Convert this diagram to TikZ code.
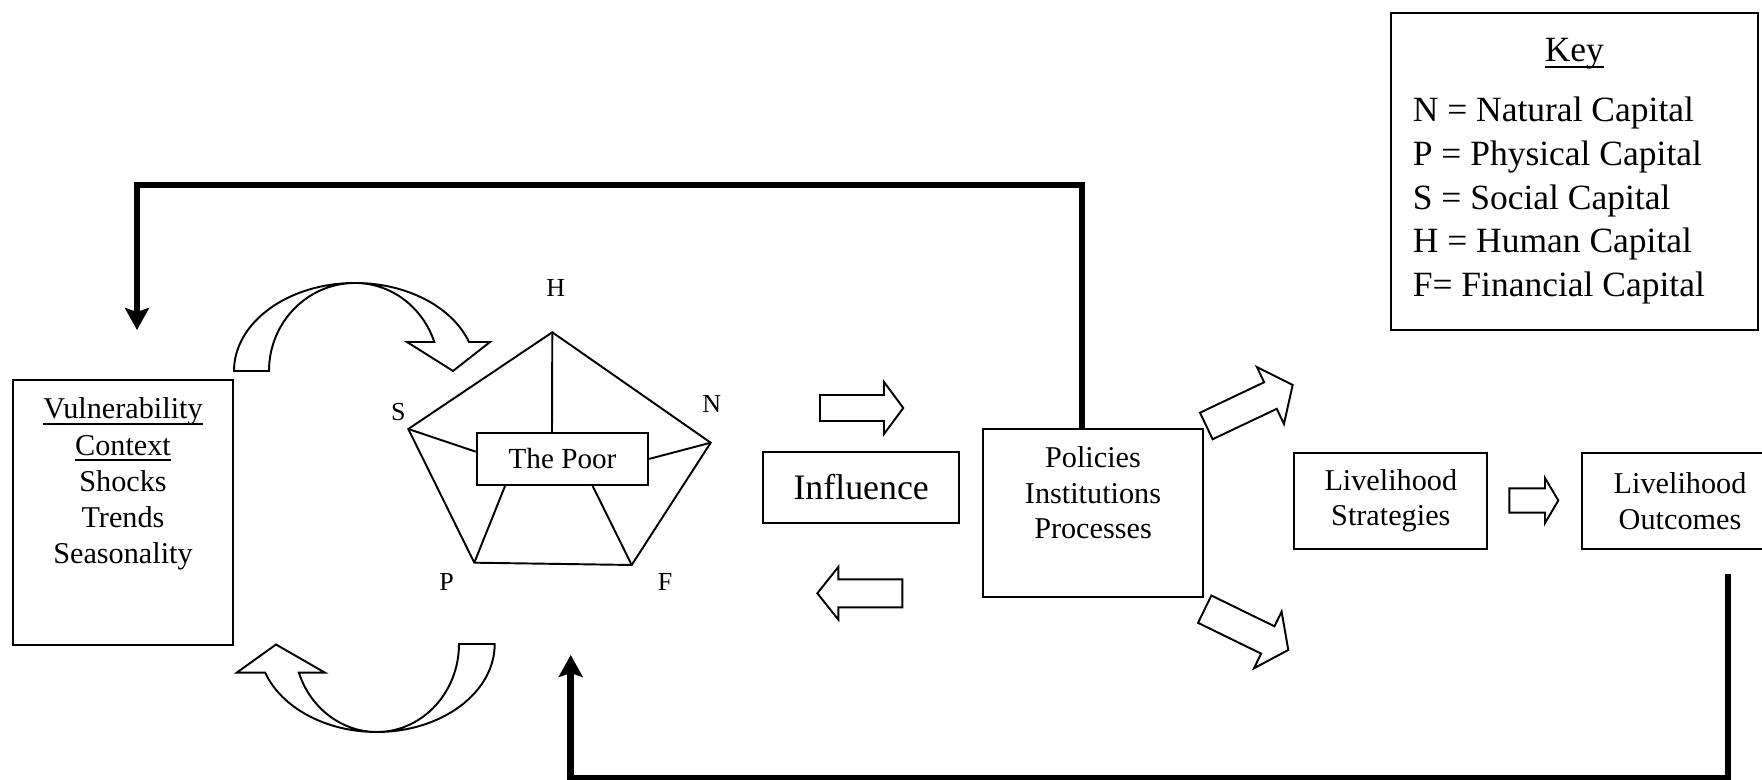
\documentclass[tikz,border=0pt]{standalone}
\usepackage{fontspec}
\setmainfont{Liberation Serif}
\usetikzlibrary{arrows.meta}

\newcommand{\ul}[1]{\underline{\raisebox{0pt}[\height][0pt]{#1}}}

\tikzset{
  outline/.style={draw, line width=0.55pt, fill=white},
  box/.style={draw, line width=0.55pt, inner sep=0pt, align=center},
  spoke/.style={line width=0.55pt},
  feedback/.style={line width=1.9pt, -{Stealth[length=2.2mm, width=2.4mm, inset=0.4mm]}},
  lettr/.style={inner sep=0pt, font=\fontsize{7.4}{8}\selectfont},
  pics/blockarr/.style args={#1/#2/#3/#4}{code={
      \draw[outline] (0,-#2) -- ({#1-#4},-#2) -- ({#1-#4},-#3) -- (#1,0)
        -- ({#1-#4},#3) -- ({#1-#4},#2) -- (0,#2) -- cycle;}}
}

\begin{document}
\begin{tikzpicture}[x=0.1mm, y=-0.1mm]
    \useasboundingbox (0,0) rectangle (1762,780);

    % boxes
    \node[box] (vc) at (123,512.5) {\parbox[c][26.5mm][t]{22mm}{\fontsize{8.6}{10.3}\selectfont\vspace*{1.8mm}\centering
        \ul{Vulnerability}\\\ul{Context}\\Shocks\\Trends\\Seasonality}};
    \node[box, minimum width=17.16mm, minimum height=5.23mm, font=\fontsize{8.3}{9}\selectfont] (poor) at (562.5,458.9) {The Poor};
    \node[box, minimum width=19.57mm, minimum height=7.07mm, font=\fontsize{10.2}{11}\selectfont] (infl) at (861.2,487.4) {Influence};
    \node[box] (pip) at (1093,512.85) {\parbox[c][16.77mm][t]{21.94mm}{\fontsize{8.6}{10.1}\selectfont\vspace*{1.8mm}\centering
        Policies\\Institutions\\Processes}};
    \node[box, minimum width=19.3mm, minimum height=9.57mm, font=\fontsize{8.6}{10}\selectfont] (ls) at (1390.8,501.2) {Livelihood\\Strategies};
    \node[box, minimum width=19.57mm, minimum height=9.57mm, font=\fontsize{8.6}{10}\selectfont] (lo) at (1680,501.2) {Livelihood\\Outcomes};
    \node[box, inner xsep=2.2mm] (key) at (1574.4,171.2) {\parbox[c][31.7mm][t]{32.33mm}{\fontsize{10.1}{12.44}\selectfont\vspace*{2.6mm}
        {\centering\ul{Key}\par}\vspace{1.6mm}\raggedright
        N = Natural Capital\\P = Physical Capital\\S = Social Capital\\H = Human Capital\\F= Financial Capital}};

    % pentagon of capitals
    \coordinate (H) at (552.3,332.3);
    \coordinate (S) at (408.3,429);
    \coordinate (N) at (710.7,442.7);
    \coordinate (F) at (631.7,565);
    \coordinate (P) at (474.3,562.7);
    \draw[spoke] (H) -- (N) -- (F) -- (P) -- (S) -- cycle;
    \draw[spoke] (H) -- ([xshift=-1.05mm]poor.north);
    \draw[spoke] (S) -- ([yshift=0.72mm]poor.west);
    \draw[spoke] (N) -- (poor.east);
    \draw[spoke] (P) -- ([xshift=2.93mm]poor.south west);
    \draw[spoke] (F) -- ([xshift=-5.66mm]poor.south east);
    \node[lettr] (hlab) at (555.7,288) {H};
    \node[lettr] (slab) at (398.3,411.7) {S};
    \node[lettr] (nlab) at (711.7,404.3) {N};
    \node[lettr] (plab) at (446.7,581.7) {P};
    \node[lettr] (flab) at (665,581.7) {F};

    % curved arrows
    \draw[outline] (234,371) .. controls (234,322.4) and (288.2,283) .. (355,283)
        .. controls (406.5,283) and (452.1,306.6) .. (469,342) -- (490,342) -- (453,371) -- (407,342) -- (434.3,342)
        .. controls (422.5,306.7) and (390.7,283) .. (355,283)
        .. controls (307.5,283) and (269,322.4) .. (269,371) -- cycle;
    \draw[outline] (494.7,644) .. controls (494.7,692.6) and (441.8,732) .. (376.7,732)
        .. controls (326.5,732) and (281.6,708.1) .. (265.2,672.7) -- (236.7,672.7) -- (276,644.5) -- (325,672.7) -- (298.9,672.7)
        .. controls (310.3,708.1) and (341.7,732) .. (376.7,732)
        .. controls (422.1,732) and (459,692.6) .. (459,644) -- cycle;

    % block arrows
    \pic at (820,408) {blockarr=83.3/13/26/19.3};
    \pic[rotate=180] at (902.3,593.3) {blockarr=85/14/26.3/21};
    \pic[rotate=25.4] at (1206.3,426) {blockarr=95.6/14.7/31.5/24.6};
    \pic[rotate=-26] at (1204.7,609.2) {blockarr=93/15.2/31.5/22.8};
    \pic at (1509.3,500.5) {blockarr=49/12.2/22.5/13.3};

    % feedback lines
    \coordinate (vtip) at (137,330);
    \coordinate (ptip) at (570.7,655);
    \draw[feedback] ([xshift=-1.1mm]pip.north) -- ++(0,-243) -| (vtip);
    \draw[feedback] ([xshift=4.8mm, yshift=-2.4mm]lo.south) -- ++(0,204) -| (ptip);
\end{tikzpicture}
\end{document}
